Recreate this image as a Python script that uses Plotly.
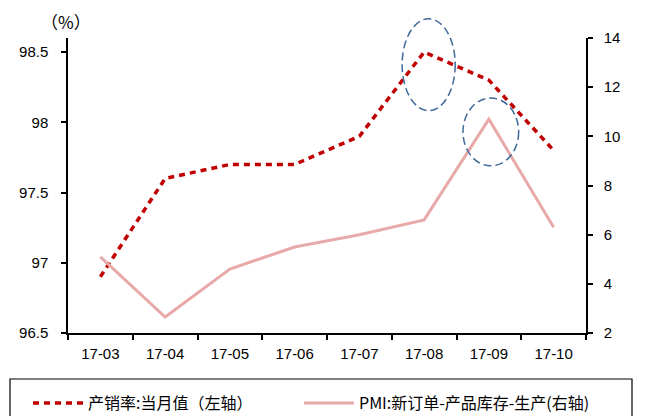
import plotly.graph_objects as go

# Monthly categories and series
months = ["17-03", "17-04", "17-05", "17-06", "17-07", "17-08", "17-09", "17-10"]
sales_ratio = [96.9, 97.6, 97.7, 97.7, 97.9, 98.5, 98.3, 97.8]        # left axis (%)
pmi_spread = [5.1, 2.65, 4.6, 5.5, 6.0, 6.6, 10.7, 6.3]               # right axis

name_left = "产销率:当月值（左轴）"
name_right = "PMI:新订单-产品库存-生产(右轴)"

y1_range = [96.5, 98.6]
y2_range = [2, 14]
y1_ticks = [96.5, 97, 97.5, 98, 98.5]
y2_ticks = [2, 4, 6, 8, 10, 12, 14]

# figure geometry (pixels)
W, H = 648, 416
ML, MR, MT, MB = 68, 62, 38, 83
PW, PH = W - ML - MR, H - MT - MB

FONT = "Arial, 'Liberation Sans', sans-serif"
CJK = "'Noto Sans CJK SC', sans-serif"


def px_to_paper(px, py):
    return (px - ML) / PW, (H - MB - py) / PH


def cat_to_paper(i):
    return (i + 0.5) / len(months)


def val_to_paper(v, rng):
    return (v - rng[0]) / (rng[1] - rng[0])


fig = go.Figure()
fig.add_trace(go.Scatter(
    x=months, y=sales_ratio, name=name_left, mode="lines",
    line=dict(color="#C00000", width=3.5, dash="6px,5px"),
    yaxis="y", legend="legend",
))
fig.add_trace(go.Scatter(
    x=months, y=pmi_spread, name=name_right, mode="lines",
    line=dict(color="#E8AAA9", width=3),
    yaxis="y2", legend="legend2",
))

# dashed ellipses highlighting the August / September peaks
highlights = [
    # (category index, value, half-width in categories, half-height in values, range)
    (5.07, 98.41, 0.41, 0.327, y1_range),
    (6.03, 10.18, 0.43, 1.38, y2_range),
]
for ci, v, hw, hh, rng in highlights:
    fig.add_shape(
        type="circle", xref="paper", yref="paper",
        x0=cat_to_paper(ci - hw), x1=cat_to_paper(ci + hw),
        y0=val_to_paper(v - hh, rng), y1=val_to_paper(v + hh, rng),
        line=dict(color="#3F6A9A", width=1.5, dash="8px,4px"),
    )

# legend frame
lx0, ly0 = px_to_paper(10, 379)
lx1, ly1 = px_to_paper(632, 425)
fig.add_shape(type="rect", xref="paper", yref="paper",
              x0=lx0, x1=lx1, y0=ly1, y1=ly0,
              line=dict(color="#000000", width=1.2), fillcolor="rgba(0,0,0,0)")

# unit label
ux, uy = px_to_paper(66, 21)
fig.add_annotation(x=ux, y=uy, xref="paper", yref="paper", text="（%）",
                   showarrow=False, font=dict(family=CJK, size=17, color="#000"),
                   xanchor="center", yanchor="middle")

leg1x, legy = px_to_paper(28, 403)
leg2x, _ = px_to_paper(299, 403)
legend_common = dict(
    orientation="v", y=legy, xanchor="left", yanchor="middle",
    font=dict(family=CJK, size=16, color="#000"),
    itemwidth=50, bgcolor="rgba(0,0,0,0)", borderwidth=0,
)

fig.update_layout(
    width=W, height=H,
    margin=dict(l=ML, r=MR, t=MT, b=MB, autoexpand=False),
    paper_bgcolor="white", plot_bgcolor="white",
    font=dict(family=FONT, size=15, color="#000"),
    showlegend=True,
    legend=dict(x=leg1x, **legend_common),
    legend2=dict(x=leg2x, **legend_common),
    xaxis=dict(
        type="category", categoryorder="array", categoryarray=months,
        range=[-0.5, len(months) - 0.5],
        showline=True, linecolor="#000", linewidth=1.5,
        ticks="outside", tickson="boundaries", ticklen=5, tickwidth=1.5, tickcolor="#000",
        showgrid=False, zeroline=False, ticklabelstandoff=6,
        tickfont=dict(family=FONT, size=15),
    ),
    yaxis=dict(
        range=y1_range, tickvals=y1_ticks, ticktext=[f"{t:g}" for t in y1_ticks],
        showline=True, linecolor="#000", linewidth=1.5,
        ticks="outside", ticklen=5, tickwidth=1.5, tickcolor="#000",
        showgrid=False, zeroline=False, ticklabelstandoff=10,
        tickfont=dict(family=FONT, size=15),
    ),
    yaxis2=dict(
        range=y2_range, tickvals=y2_ticks, overlaying="y", side="right",
        showline=True, linecolor="#000", linewidth=1.5,
        ticks="outside", ticklen=5, tickwidth=1.5, tickcolor="#000",
        showgrid=False, zeroline=False, ticklabelstandoff=8,
        tickfont=dict(family=FONT, size=15),
    ),
)

fig.write_html("out.html")
